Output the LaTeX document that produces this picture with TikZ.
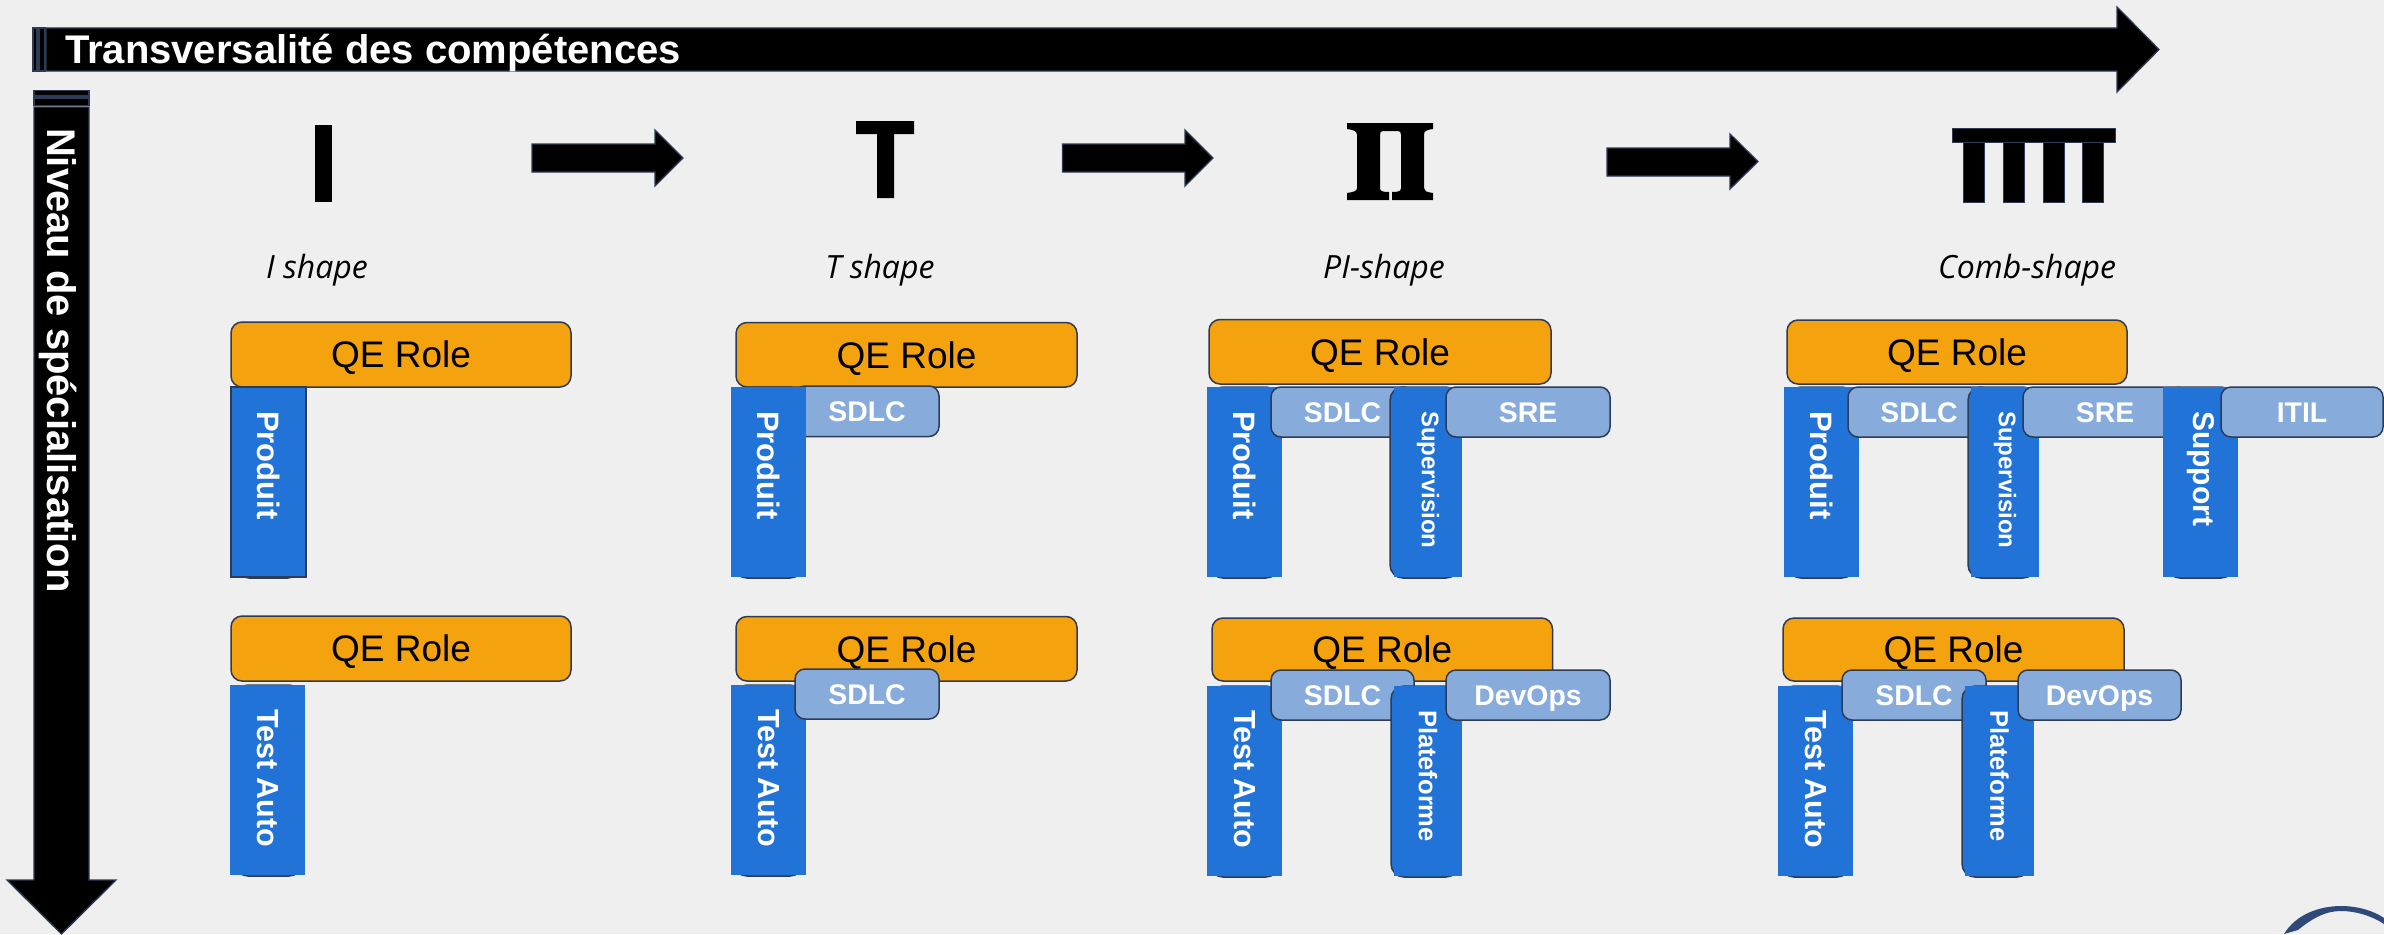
\documentclass[tikz,border=0pt]{standalone}
\usepackage{fontspec}
\setmainfont{Liberation Sans}
\newfontfamily\opensans{Open Sans}
\definecolor{bgc}{HTML}{EFEFEF}
\definecolor{qeorange}{HTML}{F4A30F}
\definecolor{skillblue}{HTML}{2273D8}
\definecolor{softblue}{HTML}{87ABDB}
\definecolor{edgec}{HTML}{2E3B55}
\definecolor{logoc}{HTML}{2F4A7A}
\newcommand{\bx}[7]{%
  \pgfmathsetmacro\bxcx{(#3+#5)/2}\pgfmathsetmacro\bxcy{(#4+#6)/2}%
  \pgfmathsetmacro\bxw{#5-#3}\pgfmathsetmacro\bxh{#6-#4}%
  \node[#2,minimum width=\bxw pt,minimum height=\bxh pt] (#1) at (\bxcx,\bxcy) {#7};}
% name, rect x1, rect x2, round x1, round x2, round top, label, size
\newcommand{\tall}[8]{%
  \pgfmathsetmacro\tly{#6}%
  \bx{#1back}{tallback}{#4}{#6}{#5}{\tly+191}{}%
  \bx{#1}{tallfill}{#2}{\tly+5}{#3}{\tly+185}{}%
  \pgfmathsetmacro\tlx{(#2+#3)/2}\pgfmathsetmacro\tlt{#6+24}%
  \node[talltext,font=\bfseries\fontsize{#8}{#8}\selectfont] (#1text) at (\tlx,\tlt) {#7};}
\newcommand{\qe}[5]{\bx{#1}{qebox}{#2}{#3}{#4}{#5}{QE Role}}
\newcommand{\soft}[6]{\bx{#1}{softbox}{#2}{#3}{#4}{#5}{#6}}
\newcommand{\shapename}[3]{\node[shapelabel] (#1) at (#2,278) {#3};}
\tikzset{
  qebox/.style={draw=edgec,line width=1.5pt,fill=qeorange,rounded corners=11pt,inner sep=0pt,outer sep=0pt,text=black,text height=26.5pt,text depth=0pt,font=\fontsize{37}{40}\selectfont},
  softbox/.style={draw=edgec,line width=1.5pt,fill=softblue,rounded corners=10pt,inner sep=0pt,outer sep=0pt,text=white,text height=20.3pt,text depth=0pt,font=\bfseries\fontsize{28.4}{30}\selectfont},
  tallback/.style={draw=edgec,line width=1.5pt,fill=skillblue,rounded corners=13pt,inner sep=0pt,outer sep=0pt},
  tallfill/.style={fill=skillblue,inner sep=0pt,outer sep=0pt},
  talltext/.style={text=white,rotate=-90,anchor=west,inner sep=0pt,outer sep=0pt},
  shapelabel/.style={anchor=base,inner sep=0pt,font=\opensans\itshape\fontsize{32}{34}\selectfont},
  blockarrow/.style={fill=black,draw=edgec,line width=1.3pt,line join=miter},
  title/.style={text=white,inner sep=0pt,outer sep=0pt,font=\bfseries\fontsize{40}{42}\selectfont},
  icon/.style={fill=black,draw=none}
}
\begin{document}
\begin{tikzpicture}[x=1pt,y=-1pt]
\useasboundingbox[fill=bgc] (0,0) rectangle (2384,934);
% main arrows
\draw[blockarrow] (33,28) rectangle (37,71);
\draw[blockarrow] (39,28) rectangle (45,71);
\draw[blockarrow] (46,28) -- (2117,28) -- (2117,7) -- (2159,49.5) -- (2117,92) -- (2117,71) -- (46,71) -- cycle;
\node[title,anchor=west] (transv) at (65,52.5) {Transversalité des compétences};
\draw[blockarrow] (34,90.5) rectangle (89,96);
\draw[blockarrow] (34,98) rectangle (89,105.5);
\draw[blockarrow] (34,107) -- (89,107) -- (89,880) -- (116,880) -- (61.5,934) -- (7,880) -- (34,880) -- cycle;
\node[title,rotate=-90,anchor=west] (niveau) at (58.5,128) {Niveau de spécialisation};
% step arrows
\draw[blockarrow] (532,144) -- (655,144) -- (655,130) -- (683,158) -- (655,186) -- (655,172) -- (532,172) -- cycle;
\draw[blockarrow] (1062.5,144) -- (1185,144) -- (1185,130) -- (1213,158) -- (1185,186) -- (1185,172) -- (1062.5,172) -- cycle;
\draw[blockarrow] (1607,148) -- (1730,148) -- (1730,134) -- (1758,161.5) -- (1730,189) -- (1730,176) -- (1607,176) -- cycle;
% icons
\fill[icon] (315,125) rectangle (332,202);
\fill[icon] (856,121) -- (914,121) -- (914,134) -- (894,134) -- (894,198) -- (877,198) -- (877,134) -- (856,134) -- cycle;
\fill[icon] (1347,123) -- (1433,123) -- (1433,129) .. controls (1426,130) and (1424,131) .. (1424,135)
  -- (1424,188) .. controls (1424,191) and (1426,192) .. (1433,193) -- (1433,200) -- (1392,200) -- (1392,192)
  .. controls (1399,192) and (1401,191) .. (1401,188) -- (1401,135) .. controls (1401,132) and (1400,131) .. (1398,131)
  -- (1383,131) .. controls (1381,131) and (1380,132) .. (1380,135) -- (1380,188) .. controls (1380,191) and (1382,192) .. (1389,192)
  -- (1389,200) -- (1347,200) -- (1347,193) .. controls (1354,192) and (1357,191) .. (1357,188) -- (1357,135) .. controls (1357,131) and (1354,130) .. (1347,129) -- cycle;
\draw[blockarrow,line width=1pt] (1952,128) rectangle (2115,142);
\foreach \tx in {1963,2003,2043,2082.5} {\draw[blockarrow,line width=1pt] (\tx,142) rectangle (\tx+21,202);}
% shape names
\shapename{nameI}{317}{I shape}
\shapename{nameT}{880}{T shape}
\shapename{namePI}{1384}{PI-shape}
\shapename{nameComb}{2027}{Comb-shape}
% column I
\qe{qeIa}{231}{322}{571}{387}
\tall{prodIa}{231}{306}{236}{301}{387}{Produit}{31}
\draw[edgec,line width=1.5pt] (prodIa.north west) rectangle (prodIa.south east);
\qe{qeIb}{231}{616}{571}{681}
\tall{autoIb}{230}{305}{235}{302}{685}{Test Auto}{30.5}
% column T
\qe{qeTa}{736}{322.5}{1077}{387}
\soft{sdlcTa}{795}{386}{939}{436.5}{SDLC}
\tall{prodTa}{731}{806}{734}{803}{387}{Produit}{31}
\qe{qeTb}{736}{616.5}{1077}{681}
\tall{autoTb}{731}{806}{734}{803}{685}{Test Auto}{30.5}
\soft{sdlcTb}{795}{669}{939}{719}{SDLC}
% column PI
\qe{qePa}{1209}{319.5}{1551}{384}
\tall{prodPa}{1207}{1282}{1210}{1279}{387}{Produit}{31}
\soft{sdlcPa}{1271}{387}{1414}{437}{SDLC}
\tall{supPa}{1394}{1462}{1390}{1459}{387}{Supervision}{24}
\soft{srePa}{1446}{387}{1610}{437}{SRE}
\qe{qePb}{1212}{618}{1552.5}{681}
\tall{autoPb}{1207}{1282}{1210}{1279}{686}{Test Auto}{30.5}
\soft{sdlcPb}{1271}{670}{1414}{720}{SDLC}
\tall{platPb}{1394}{1462}{1391}{1459}{686}{Plateforme}{25.5}
\soft{devPb}{1446}{670}{1610}{720}{DevOps}
% column Comb
\qe{qeCa}{1787}{320}{2127}{384}
\tall{prodCa}{1784}{1859}{1788}{1855}{387}{Produit}{31}
\soft{sdlcCa}{1848}{387}{1990}{437}{SDLC}
\tall{supCa}{1971}{2039}{1968}{2036}{387}{Supervision}{24}
\soft{sreCa}{2023}{387}{2187}{437}{SRE}
\tall{suppCa}{2163}{2238}{2167}{2234}{387}{Support}{30}
\soft{itilCa}{2221}{387}{2383}{437}{ITIL}
\qe{qeCb}{1783}{618}{2124}{681}
\tall{autoCb}{1778}{1853}{1781}{1850}{686}{Test Auto}{30.5}
\soft{sdlcCb}{1842}{670}{1986}{720}{SDLC}
\tall{platCb}{1965}{2034}{1962}{2030}{686}{Plateforme}{25.5}
\soft{devCb}{2018}{670}{2181}{720}{DevOps}
% logo arc
\fill[logoc] (2284,934) .. controls (2296,914) and (2320,906) .. (2341,906) .. controls (2358,906) and (2374,911) .. (2384,918)
  -- (2384,924) .. controls (2372,916) and (2356,911) .. (2341,911) .. controls (2324,911) and (2310,920) .. (2298,930) -- cycle;
\end{tikzpicture}
\end{document}
